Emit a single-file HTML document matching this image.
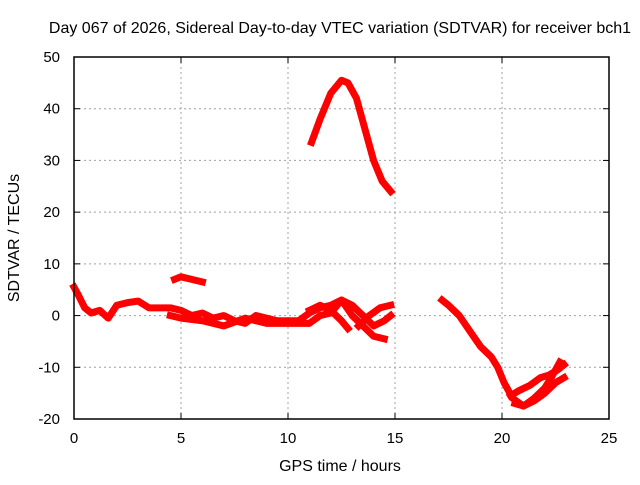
<!DOCTYPE html>
<html><head><meta charset="utf-8"><style>
body{margin:0;background:#fff}
svg text{font-family:"Liberation Sans",sans-serif;font-size:15px;fill:#000}
svg text.big{font-size:16px}
</style></head><body>
<svg id="c" width="640" height="480">
<text class="big" x="340" y="33" text-anchor="middle">Day 067 of 2026, Sidereal Day-to-day VTEC variation (SDTVAR) for receiver bch1</text>
<text class="big" x="340" y="471" text-anchor="middle">GPS time / hours</text>
<text class="big" transform="translate(19,238) rotate(-90)" text-anchor="middle">SDTVAR / TECUs</text>
<g id="grid"></g><g id="marks"></g><g id="axes"></g>
</svg>
<script>
const xTicks=[0,5,10,15,20,25];
const yTicks=[-20,-10,0,10,20,30,40,50];
const morningX=[0,0.2,0.5,0.8,1.2,1.6,2.0,2.5,3.0,3.5,4.0,4.5,5.0,5.5,6.0,6.5,7.0,7.5,8.0,8.5,9.0,9.5,10,10.5,11,11.5,12,12.5,13,13.5,14,14.5,14.8];
const morningY=[5.5,4,1.5,0.5,1,-0.5,2,2.5,2.8,1.5,1.5,1.5,1,0,0.5,-0.5,0,-1,-1.5,0,-0.5,-1,-1,-1,0.5,1.5,2,3,2,0,-2,-1,0];
const strandX=[4.5,5,6,7,8,9,10,11,11.5,12,12.5,13,13.5,14,14.5];
const strandY=[0,-0.5,-1,-2,-0.5,-1.5,-1.5,-1.5,0,0.5,3,0,-2,-4,-4.5];
const crossX=[11,11.5,12,12.5,12.8];
const crossY=[1,2,1,-1,-2.5];
const cross2X=[13.3,13.8,14.3,14.8];
const cross2Y=[-2,0,1.5,2];
const islandX=[4.7,5,5.5,6];
const islandY=[7,7.5,7,6.5];
const peakX=[11.1,11.5,12,12.5,12.8,13.2,13.6,14,14.4,14.8];
const peakY=[33.5,38,43,45.5,45,42,36,30,26,24];
const eveX=[17.2,17.5,18,18.5,19,19.5,19.8,20.1,20.5,21,21.5,22,22.3,22.7];
const eveY=[3,2,0,-3,-6,-8,-10,-13,-16,-17.5,-16,-14,-12,-9];
const eve2X=[20.4,20.8,21.3,21.8,22.2,22.6,22.9];
const eve2Y=[-15.5,-14.5,-13.5,-12,-11.5,-10.5,-9.5];
const eve3X=[20.6,21,21.5,22,22.5,22.9];
const eve3Y=[-17,-17.5,-16.5,-15,-13,-12];

const L=74,R=609,T=57,B=419;
const sx=v=>L+(v-0)/25*(R-L);
const sy=v=>B-(v+20)/70*(B-T);
const NS="http://www.w3.org/2000/svg";
function mk(tag,attrs,parent){const e=document.createElementNS(NS,tag);for(const k in attrs)e.setAttribute(k,attrs[k]);parent.appendChild(e);return e;}
const grid=document.getElementById('grid'),axes=document.getElementById('axes'),marks=document.getElementById('marks');
xTicks.forEach(t=>{
 if(t>0&&t<25){const g=mk('line',{x1:sx(t),x2:sx(t),y1:T,y2:B,stroke:'#a0a0a0','stroke-dasharray':'2,3'},grid);
 
 }
 const tx=mk('text',{x:sx(t),y:B+24,'text-anchor':'middle'},axes);tx.textContent=t;
 
 
 mk('line',{x1:sx(t),x2:sx(t),y1:B,y2:B-6,stroke:'#000'},axes);
 mk('line',{x1:sx(t),x2:sx(t),y1:T,y2:T+6,stroke:'#000'},axes);
});
yTicks.forEach(t=>{
 if(t>-20&&t<50){const g=mk('line',{x1:L,x2:R,y1:sy(t),y2:sy(t),stroke:'#a0a0a0','stroke-dasharray':'2,3'},grid);
 
 }
 const tx=mk('text',{x:L-14,y:sy(t)+5,'text-anchor':'end'},axes);tx.textContent=t;
 
 
 mk('line',{x1:L,x2:L+6,y1:sy(t),y2:sy(t),stroke:'#000'},axes);
 mk('line',{x1:R,x2:R-6,y1:sy(t),y2:sy(t),stroke:'#000'},axes);
});
const fr=mk('rect',{x:L,y:T,width:R-L,height:B-T,fill:'none',stroke:'#000','stroke-width':1.5},axes);


function series(xs,ys,name){
 const p=mk('polyline',{points:xs.map((x,i)=>sx(x)+','+sy(ys[i])).join(' '),fill:'none',stroke:'#f00','stroke-width':7,'stroke-linejoin':'round','stroke-linecap':'square'},marks);
 
 
}
series(morningX,morningY,'series-morning');
series(strandX,strandY,'series-strand');
series(crossX,crossY,'series-cross');
series(cross2X,cross2Y,'series-cross-2');
series(islandX,islandY,'series-island');
series(peakX,peakY,'series-peak');
series(eveX,eveY,'series-evening');
series(eve2X,eve2Y,'series-evening-2');
series(eve3X,eve3Y,'series-evening-3');
</script>
</body></html>
